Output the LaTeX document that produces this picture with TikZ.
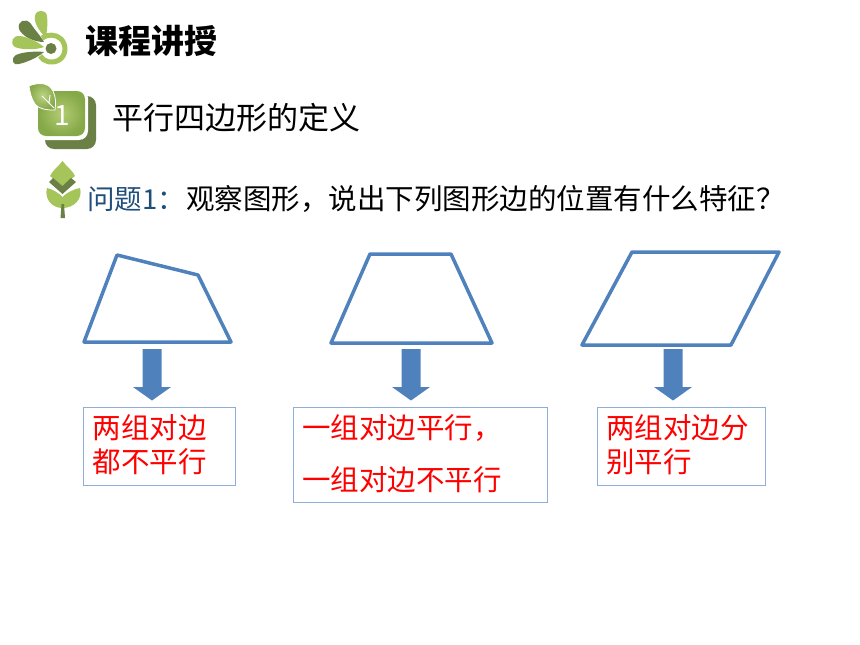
\documentclass[tikz,border=0pt]{standalone}
\usepackage{fontspec}
\setmainfont{Noto Sans CJK SC}
\definecolor{shapeblue}{HTML}{4F81BD}
\definecolor{boxblue}{HTML}{8FAFD8}
\definecolor{leafl}{HTML}{A5C45A}
\definecolor{leafm}{HTML}{85A848}
\definecolor{leafd}{HTML}{6B8045}
\definecolor{titleblue}{HTML}{1F4E79}
\tikzset{
  quad/.style={draw=shapeblue,line width=3.5pt,line join=round,fill=none},
  downarrow/.style={fill=shapeblue,draw=none},
  ansbox/.style={draw=boxblue,line width=1.2pt,fill=white},
  ans/.style={text=red,font=\fontsize{28.5}{28.5}\selectfont,anchor=west,inner sep=0pt},
  light/.style={fill=leafl,draw=none},
  dark/.style={fill=leafd,draw=none},
}
\begin{document}
\begin{tikzpicture}[x=1pt,y=-1pt]
\useasboundingbox (0,0) rectangle (860,645);
% header icon
\draw[line width=5pt,leafl] (42,38) .. controls (47,34) and (56,34) .. (61,39) .. controls (67,45) and (66,56) .. (59,60) .. controls (52,64) and (44,62) .. (40,56);
\fill[leafd] (51,48.5) circle (5.5);
\path[light] (46,38) .. controls (36,28) and (34,20) .. (35,16) .. controls (36,9) and (46,9) .. (47,16) .. controls (48,22) and (47,30) .. (46,38) -- cycle;
\path[dark] (44,42) .. controls (33,42) and (22,36) .. (19,29) .. controls (17,21) and (26,17) .. (31,24) .. controls (34,29) and (40,35) .. (44,42) -- cycle;
\path[light] (44,47) .. controls (36,50) and (22,50) .. (15,47) .. controls (9,43) and (13,35) .. (20,36) .. controls (28,37) and (38,42) .. (44,47) -- cycle;
\path[dark] (44,52) .. controls (36,51) and (22,52) .. (16,55) .. controls (10,59) and (13,66) .. (19,64) .. controls (28,62) and (38,57) .. (44,52) -- cycle;
\node[font=\fontsize{33}{33}\bfseries\selectfont,anchor=west,inner sep=0pt] (title) at (85,41) {课程讲授};
% numbered icon
\fill[leafd,rounded corners=9pt] (45,96) rectangle (96,149);
\fill[white,rounded corners=9pt] (36,89) rectangle (88,140);
\shade[inner color=leafl!85!white,outer color=leafm,rounded corners=8pt] (38,91) rectangle (85,136);
\shade[inner color=leafl!75!white,outer color=leafm,draw=white,line width=0.8pt] (29,86) .. controls (36,83) and (48,81) .. (53,91) .. controls (56,97) and (56,104) .. (55,110) .. controls (48,110) and (40,110) .. (35,104) .. controls (31,98) and (30,92) .. (29,86) -- cycle;
\draw[white,line width=0.9pt] (42,96) -- (54,108) (49,103) -- (50,95);
\node[text=white,font=\fontsize{28}{28}\selectfont,inner sep=0pt] (num) at (62,116) {1};
\node[font=\fontsize{31}{31}\selectfont,anchor=west,inner sep=0pt] (heading) at (112,118) {平行四边形的定义};
% question icon
\path[light] (62.5,161) .. controls (58,167) and (52,171) .. (50,176) -- (62.5,186) -- (75,176) .. controls (73,171) and (67,167) .. (62.5,161) -- cycle;
\path[dark] (49,182) -- (53,178) -- (62.5,186) -- (71,178) -- (76,182) -- (62.5,194) -- cycle;
\path[light] (47,188) .. controls (52,189) and (59,193) .. (62.5,197) .. controls (66,193) and (74,189) .. (80,188) .. controls (83,199) and (74,208) .. (62.5,208) .. controls (52,208) and (44,199) .. (47,188) -- cycle;
\fill[leafd] (61.5,204) -- (64,204) -- (65,218) -- (60.5,218) -- cycle;
\node[text=titleblue,font=\fontsize{27.5}{28}\selectfont,anchor=west,inner sep=0pt] (qlabel) at (87,199) {问题1：};
\node[font=\fontsize{28.5}{28.5}\selectfont,anchor=west,inner sep=0pt] (question) at (186,199) {观察图形，说出下列图形边的位置有什么特征？};
% shapes
\draw[quad] (117,255) -- (198,275) -- (231,342) -- (84,342) -- cycle;
\draw[quad] (370,254) -- (451,254) -- (492,343) -- (331,343) -- cycle;
\draw[quad] (632,252) -- (779,252) -- (731,345) -- (582,345) -- cycle;
% arrows
\foreach \c in {152,411,673}
  \path[downarrow] (\c-9.5,349) -- (\c+9.5,349) -- (\c+9.5,387) -- (\c+19,387) -- (\c,400.5) -- (\c-19,387) -- (\c-9.5,387) -- cycle;
% boxes
\node[ansbox,minimum width=152pt,minimum height=78pt,anchor=north west,inner sep=0pt] (a) at (82.5,406.5) {};
\node[ansbox,minimum width=254pt,minimum height=95pt,anchor=north west,inner sep=0pt] (b) at (292.5,406.5) {};
\node[ansbox,minimum width=168pt,minimum height=78pt,anchor=north west,inner sep=0pt] (c) at (596.5,406.5) {};
\node[ans] (a1) at (92.5,428) {两组对边};
\node[ans] (a2) at (92.5,462) {都不平行};
\node[ans] (b1) at (302,428) {一组对边平行，};
\node[ans] (b2) at (302,480) {一组对边不平行};
\node[ans] (c1) at (606,428) {两组对边分};
\node[ans] (c2) at (606,462) {别平行};
\end{tikzpicture}
\end{document}
